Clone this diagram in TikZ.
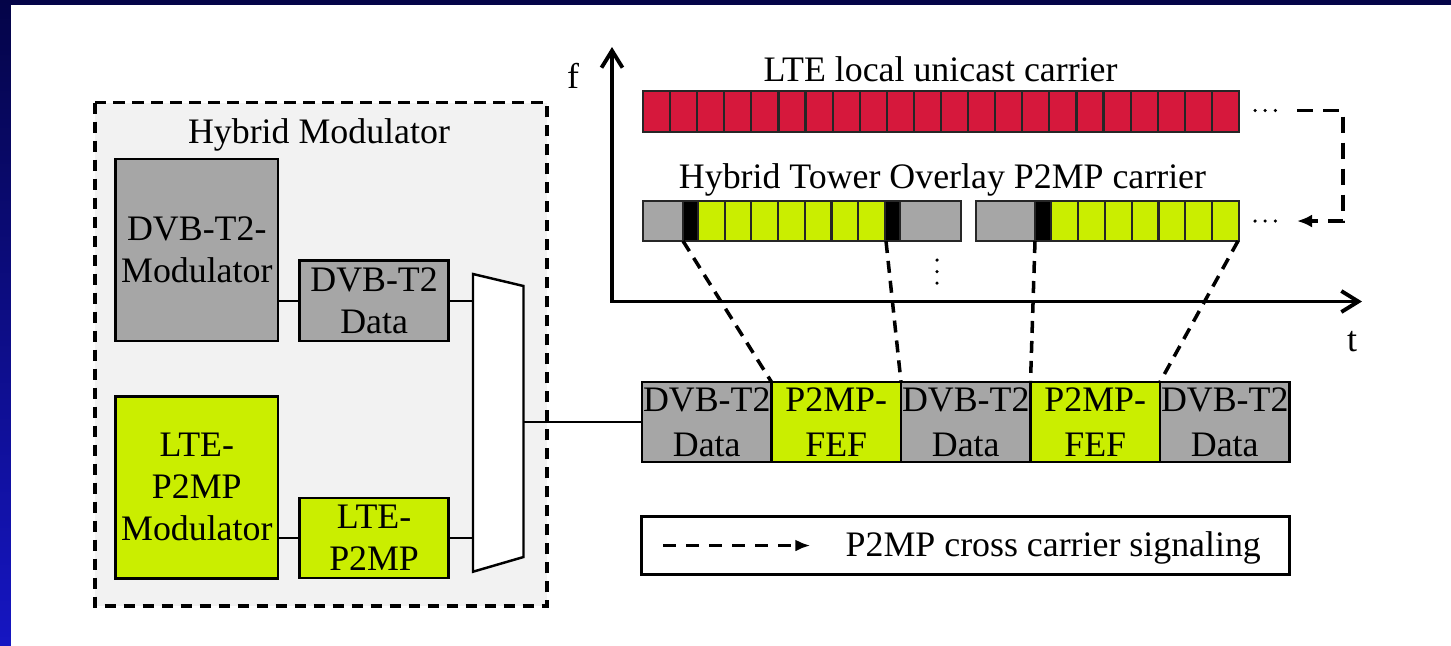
\documentclass[tikz,border=0pt]{standalone}
\usepackage{fontspec}
\setmainfont{Liberation Serif}
\usetikzlibrary{arrows.meta, positioning, shadings}
\definecolor{dvbgray}{RGB}{166,166,166}
\definecolor{p2mpgreen}{RGB}{202,238,0}
\definecolor{ltered}{RGB}{214,24,60}
\definecolor{slidetop}{RGB}{4,4,72}
\definecolor{slidebot}{RGB}{22,22,196}

\begin{document}
\begin{tikzpicture}[x=0.1mm, y=-0.1mm, font=\fontsize{10.2}{12}\selectfont,
	box/.style={draw, line width=0.8pt, inner sep=0pt, outer sep=0pt, align=center},
	cell/.style={box, minimum width=12.95mm, minimum height=8mm, font=\fontsize{10.2}{12.8}\selectfont},
	slot/.style={draw=black!85, line width=0.6pt},
	map/.style={line width=1pt, dash pattern=on 1.2mm off 0.8mm},
	dots/.style={line width=1pt, line cap=round, dash pattern=on 0pt off 2.9pt},
	wire/.style={line width=0.7pt}]

	% slide background
	\useasboundingbox (0,0) rectangle (1451,645);
	\shade[top color=slidetop, bottom color=slidebot] (0,0) rectangle (1460,655);
	\fill[white] (10.5,4.5) rectangle (1460,655);

	% hybrid modulator
	\draw[fill=black!5, line width=1pt, dash pattern=on 1.15mm off 0.75mm] (95,102.7) rectangle (547,606);
	\node[anchor=base] (hybtitle) at (319,143) {Hybrid Modulator};
	\node[box, fill=dvbgray, minimum width=16.24mm, minimum height=18.2mm] (dvbmod) at (196.8,250) {DVB-T2-\\Modulator};
	\node[box, fill=dvbgray, minimum width=14.85mm, minimum height=8.03mm] (dvbdata) at (374.1,300.8) {DVB-T2\\Data};
	\node[box, fill=p2mpgreen, minimum width=16.24mm, minimum height=18.2mm] (ltemod) at (196.8,487.2) {LTE-\\P2MP\\Modulator};
	\node[box, fill=p2mpgreen, minimum width=14.85mm, minimum height=8mm] (ltedata) at (374.1,538) {LTE-\\P2MP};

	% multiplexer
	\coordinate (mux-nw) at (473,274);
	\coordinate (mux-ne) at (523.5,286);
	\coordinate (mux-se) at (523.5,557);
	\coordinate (mux-sw) at (473,571.7);
	\draw[wire, fill=white] (mux-nw) -- (mux-ne) -- (mux-se) -- (mux-sw) -- cycle;
	\draw[wire] (dvbmod.east |- dvbdata.west) -- (dvbdata.west);
	\draw[wire] (dvbdata.east) -- (dvbdata.east -| mux-nw);
	\draw[wire] (ltemod.east |- ltedata.west) -- (ltedata.west);
	\draw[wire] (ltedata.east) -- (ltedata.east -| mux-sw);

	% frame sequence
	\node[cell, fill=dvbgray] (fr1) at (706.75,422) {DVB-T2\\Data};
	\node[cell, fill=p2mpgreen, right=0pt of fr1] (fr2) {P2MP-\\FEF};
	\node[cell, fill=dvbgray, right=0pt of fr2] (fr3) {DVB-T2\\Data};
	\node[cell, fill=p2mpgreen, right=0pt of fr3] (fr4) {P2MP-\\FEF};
	\node[cell, fill=dvbgray, right=0pt of fr4] (fr5) {DVB-T2\\Data};
	\draw[wire] (fr1.west -| mux-ne) -- (fr1.west);

	% axes
	\coordinate (ftip) at (612,47);
	\coordinate (origin) at (612,301.5);
	\coordinate (ttip) at (1362,301.5);
	\draw[line width=1.1pt, {Straight Barb[length=1.7mm, width=2.1mm]}-{Straight Barb[length=1.7mm, width=2.1mm]}] (ftip) -- (origin) -- (ttip);
	\node[anchor=base] (flabel) at (573,88) {f};
	\node[anchor=base] (tlabel) at (1352,351) {t};

	% lte unicast carrier
	\node[anchor=base] (ltetitle) at (940.5,81) {LTE local unicast carrier};
	\foreach \i in {0,...,21}
		\draw[slot, fill=ltered] ({643+27.09*\i},91) rectangle ++(27.09,41);

	% p2mp overlay carrier
	\node[anchor=base] (p2mptitle) at (942.5,188) {Hybrid Tower Overlay P2MP carrier};
	\draw[slot, fill=dvbgray] (643,201) rectangle (683,241);
	\draw[slot, fill=black] (683,201) rectangle (698,241);
	\foreach \i in {0,...,6}
		\draw[slot, fill=p2mpgreen] ({698+26.7*\i},201) rectangle ++(26.7,40);
	\draw[slot, fill=black] (885,201) rectangle (900,241);
	\draw[slot, fill=dvbgray] (900,201) rectangle (961,241);
	\draw[slot, fill=dvbgray] (976,201) rectangle (1035,241);
	\draw[slot, fill=black] (1035,201) rectangle (1051,241);
	\foreach \i in {0,...,6}
		\draw[slot, fill=p2mpgreen] ({1051+26.86*\i},201) rectangle ++(26.86,40);
	\draw[dots, dash pattern=on 0pt off 3.3pt] (937,260) -- (937,285);

	% mapping of the FEF parts
	\coordinate (fef1a) at (683,241);
	\coordinate (fef1b) at (886,241);
	\coordinate (fef2a) at (1035,241);
	\coordinate (fef2b) at (1238,241);
	\draw[map] (fef1a) -- (fr1.north east);
	\draw[map] (fef1b) -- (fr2.north east);
	\draw[map] (fef2a) -- (fr3.north east);
	\draw[map] (fef2b) -- (fr4.north east);

	% cross carrier signaling
	\draw[dots] (1255,110.5) -- (1277,110.5);
	\draw[dots] (1255,221) -- (1277,221);
	\coordinate (sigout) at (1297,110.5);
	\coordinate (sigin) at (1297,221);
	\draw[line width=0.9pt, dash pattern=on 1.6mm off 1mm, -{Latex[length=1.5mm, width=1.3mm]}] (sigout) -- (1343,110.5) -- (1343,221) -- (sigin);

	% legend
	\node[draw, line width=0.8pt, minimum width=64.76mm, minimum height=5.76mm, inner sep=0pt] (legend) at (965.5,545.5) {};
	\draw[line width=1pt, dash pattern=on 1.3mm off 1mm, -{Latex[length=1.5mm, width=1.2mm]}] ([xshift=2.3mm]legend.west) -- ++(14.7mm,0);
	\node[anchor=base west, inner sep=0pt] (legendtext) at (845,556) {P2MP cross carrier signaling};

\end{tikzpicture}
\end{document}
